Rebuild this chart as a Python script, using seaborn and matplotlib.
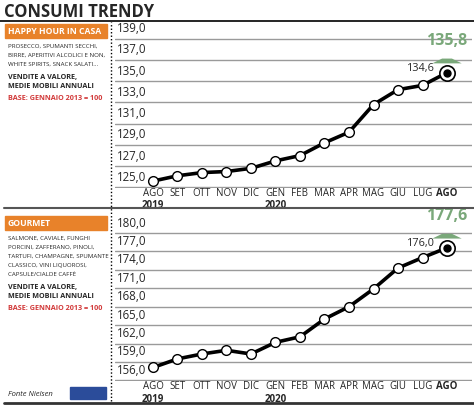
import matplotlib
matplotlib.use("Agg")
import matplotlib.pyplot as plt
import pandas as pd
import seaborn as sns
from matplotlib.transforms import blended_transform_factory

months = ["AGO", "SET", "OTT", "NOV", "DIC", "GEN", "FEB", "MAR", "APR", "MAG", "GIU", "LUG", "AGO"]
years = {0: "2019", 5: "2020"}
happy = [125.6, 126.1, 126.4, 126.5, 126.8, 127.5, 128.0, 129.2, 130.2, 132.8, 134.2, 134.6, 135.8]
gourmet = [158.1, 159.5, 160.3, 160.9, 160.3, 162.2, 163.1, 166.0, 168.0, 170.9, 174.3, 176.0, 177.6]
happy_ticks = [125, 127, 129, 131, 133, 135, 137, 139]
gourmet_ticks = [156, 159, 162, 165, 168, 171, 174, 177, 180]

W, H = 474, 416
sns.set_theme(style="white")
plt.rcParams["font.family"] = ["Open Sans", "DejaVu Sans"]
fig = plt.figure(figsize=(W / 100, H / 100), dpi=100)
GREEN = "#7aa87a"
ORANGE = "#e8822a"
RED = "#d23a3a"


def px(x, y):
    return x / W, 1 - y / H


def panel(top_px, bot_px, ylim, values, ticks):
    l, b = px(115, bot_px)
    r, t = px(472, top_px)
    ax = fig.add_axes([l, b, r - l, t - b])
    df = pd.DataFrame({"x": range(len(values)), "y": values})
    for v in ticks:
        ax.axhline(v, color="#9a9a9a", lw=1.0, zorder=1)
    sns.lineplot(data=df, x="x", y="y", ax=ax, color="black", lw=2.6,
                 marker="o", markersize=7, markerfacecolor="white",
                 markeredgecolor="black", markeredgewidth=1.0, zorder=3)
    last = len(values) - 1
    ax.plot(last, values[-1], "o", ms=11, mfc="white", mec="black", mew=1.2, zorder=4)
    ax.plot(last, values[-1], "o", ms=5, color="black", zorder=5)
    ax.set_xlim(-1.55, 13.02)
    ax.set_ylim(*ylim)
    ax.axis("off")
    tr = blended_transform_factory(ax.transAxes, ax.transData)
    for v in ticks:
        ax.annotate(f"{v},0", (0.005, v), xycoords=tr, xytext=(0, 2.5),
                    textcoords="offset points", fontsize=8.3, va="bottom", ha="left")
    ax.annotate(f"{values[-2]:.1f}".replace(".", ","), (last, values[-1]), xytext=(-9, 3),
                textcoords="offset points", ha="right", va="center", fontsize=7.8)
    ax.annotate(f"{values[-1]:.1f}".replace(".", ","), (last, values[-1]), xytext=(0, 17),
                textcoords="offset points", ha="center", va="bottom", fontsize=11.5,
                fontweight="bold", color=GREEN)
    span = ylim[1] - ylim[0]
    ax.fill([last - 0.6, last - 0.2, last + 0.2, last + 0.6],
            [values[-1] + span * 0.058, values[-1] + span * 0.088,
             values[-1] + span * 0.088, values[-1] + span * 0.058],
            color=GREEN, lw=0, zorder=2)
    tx = blended_transform_factory(ax.transData, ax.transAxes)
    for i, m in enumerate(months):
        ax.annotate(m, (i, 0), xycoords=tx, xytext=(0, 0), textcoords="offset points",
                    ha="center", va="top", fontsize=7,
                    fontweight="bold" if i == last else "normal")
        if i in years:
            ax.annotate(years[i], (i, 0), xycoords=tx, xytext=(0, -9), textcoords="offset points",
                        ha="center", va="top", fontsize=7, fontweight="bold")
    return ax


panel(28, 188, (124.95, 140.0), happy, happy_ticks)
panel(222, 381, (155.9, 181.8), gourmet, gourmet_ticks)

# header and frame lines
fig.text(*px(4, 12), "CONSUMI TRENDY", fontsize=12, fontweight="bold", va="center")
fig.add_artist(plt.Line2D([0, 1], [1 - 21 / H] * 2, color="black", lw=1.2))
fig.add_artist(plt.Line2D([4 / W, 1], [1 - 208 / H] * 2, color="#555555", lw=1.5))
fig.add_artist(plt.Line2D([4 / W, 1], [1 - 403 / H] * 2, color="#333333", lw=2))
fig.add_artist(plt.Line2D([111 / W] * 2, [1 - 401 / H, 1 - 22 / H], color="black", lw=1, ls=(0, (1, 1.5))))


def side(y0, title, lines):
    l, b = px(5, y0 + 14)
    r, t = px(107, y0)
    fig.add_artist(plt.Rectangle((l, b), r - l, t - b, color=ORANGE, transform=fig.transFigure))
    fig.text(*px(8, y0 + 7), title, color="white", fontsize=6.2, fontweight="bold", va="center")
    y = y0 + 22
    for s in lines:
        fig.text(*px(8, y), s, fontsize=4.4, va="center")
        y += 9
    y += 4
    fig.text(*px(8, y), "VENDITE A VALORE,", fontsize=5.2, fontweight="bold", va="center")
    fig.text(*px(8, y + 9), "MEDIE MOBILI ANNUALI", fontsize=5.2, fontweight="bold", va="center")
    fig.text(*px(8, y + 21), "BASE: GENNAIO 2013 = 100", fontsize=5.2, fontweight="bold", color=RED, va="center")


side(24, "HAPPY HOUR IN CASA", ["PROSECCO, SPUMANTI SECCHI,", "BIRRE, APERITIVI ALCOLICI E NON,",
                                "WHITE SPIRITS, SNACK SALATI..."])
side(216, "GOURMET", ["SALMONE, CAVIALE, FUNGHI", "PORCINI, ZAFFERANO, PINOLI,",
                      "TARTUFI, CHAMPAGNE, SPUMANTE", "CLASSICO, VINI LIQUOROSI,",
                      "CAPSULE/CIALDE CAFFÈ"])
fig.text(*px(8, 394), "Fonte Nielsen", fontsize=5.5, style="italic", va="center")
l, b = px(70, 399)
r, t = px(106, 387)
fig.add_artist(plt.Rectangle((l, b), r - l, t - b, color="#2b4c9a", transform=fig.transFigure))

fig.savefig("out.png", dpi=100)
